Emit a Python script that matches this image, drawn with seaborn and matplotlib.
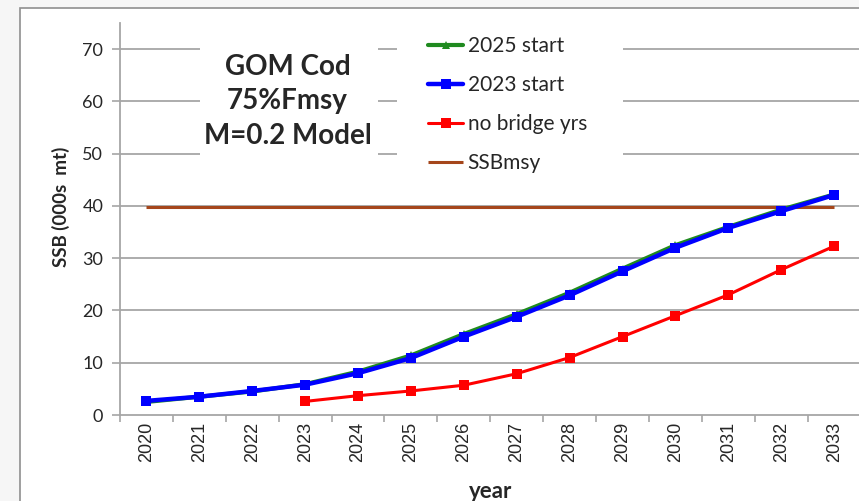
import numpy as np
import pandas as pd
import matplotlib
matplotlib.use("Agg")
import matplotlib.pyplot as plt
from matplotlib.patches import Rectangle
import seaborn as sns

# Data (SSB, 000s mt)
years = [2020, 2021, 2022, 2023, 2024, 2025, 2026, 2027, 2028, 2029, 2030, 2031, 2032, 2033]
start_2025 = [2.5, 3.5, 4.5, 5.9, 8.3, 11.4, 15.5, 19.3, 23.4, 28.0, 32.5, 36.0, 39.3, 42.2]
start_2023 = [2.7, 3.5, 4.6, 5.8, 8.0, 10.9, 15.0, 18.8, 22.9, 27.5, 32.0, 35.8, 39.0, 42.1]
no_bridge_years = [2023, 2024, 2025, 2026, 2027, 2028, 2029, 2030, 2031, 2032, 2033]
no_bridge = [2.6, 3.7, 4.6, 5.7, 7.9, 11.0, 15.0, 19.0, 23.0, 27.8, 32.3]
ssbmsy = 39.8

GRID = "#a6a6a6"
FONT = ["Lato", "DejaVu Sans"]
W, H = 859, 501


def build_frame():
    idx = {y: i for i, y in enumerate(years)}
    rows = []
    for y, v in zip(years, start_2025):
        rows.append(("2025 start", idx[y], v))
    for y, v in zip(years, start_2023):
        rows.append(("2023 start", idx[y], v))
    for y, v in zip(no_bridge_years, no_bridge):
        rows.append(("no bridge yrs", idx[y], v))
    return pd.DataFrame(rows, columns=["series", "x", "ssb"])


def main():
    sns.set_style("white")
    plt.rcParams["font.family"] = FONT

    df = build_frame()
    fig = plt.figure(figsize=(W / 100, H / 100), dpi=100, facecolor="#f6f6f6")
    # white chart area with grey frame
    fig.patches.append(Rectangle((20 / W, -0.02), 1.0, 1 - 8 / H + 0.02,
                                 transform=fig.transFigure, facecolor="white",
                                 edgecolor="#8f8f8f", linewidth=1.2, zorder=-5))

    ax = fig.add_axes([120 / W, 86 / H, 740.6 / W, 392 / H])
    ax.set_facecolor("none")

    # horizontal grid
    for v in range(10, 80, 10):
        ax.axhline(v, color=GRID, lw=1.3, zorder=1)

    n = len(years)
    ax.hlines(ssbmsy, 0, n - 1, color="#a5461b", lw=2.2, zorder=3, label="SSBmsy")

    sns.lineplot(data=df[df.series == "no bridge yrs"], x="x", y="ssb", ax=ax,
                 color="#ff0000", lw=2.2, marker="s", markersize=7,
                 markeredgewidth=0, zorder=4, label="no bridge yrs")
    sns.lineplot(data=df[df.series == "2025 start"], x="x", y="ssb", ax=ax,
                 color="#1f8a1f", lw=3.0, marker="^", markersize=6,
                 markeredgewidth=0, zorder=5, label="2025 start")
    sns.lineplot(data=df[df.series == "2023 start"], x="x", y="ssb", ax=ax,
                 color="#0000ff", lw=3.2, marker="s", markersize=7.5,
                 markeredgewidth=0, zorder=6, label="2023 start")

    ax.set_xlim(-0.5, n - 0.5)
    ax.set_ylim(0, 75)
    ax.set_yticks(range(0, 80, 10))
    ax.set_xticks(np.arange(-0.5, n, 1.0))
    ax.set_xticklabels([])
    ax.set_xticks(range(n), minor=True)
    ax.set_xticklabels([str(y) for y in years], minor=True, rotation=90,
                       family=["Liberation Sans"], fontsize=13)
    ax.tick_params(axis="x", which="major", direction="out", length=5,
                   width=1.2, color=GRID, bottom=True)
    ax.tick_params(axis="x", which="minor", length=0, pad=5)
    ax.tick_params(axis="y", direction="out", length=6, width=1.2,
                   color=GRID, left=True, labelsize=13, pad=6)

    for s in ["top", "right"]:
        ax.spines[s].set_visible(False)
    for s in ["left", "bottom"]:
        ax.spines[s].set_color(GRID)
        ax.spines[s].set_linewidth(1.3)

    ax.set_xlabel("year", fontsize=16, fontweight="bold")
    ax.xaxis.set_label_coords(0.5, -0.168)
    ax.set_ylabel("SSB (000s  mt)", fontsize=13.5, fontweight="bold")
    ax.yaxis.set_label_coords(-0.067, 0.531)

    # white boxes behind the title and the legend, hiding grid lines
    ax.add_patch(Rectangle((200 / W, 1 - 162 / H), 178 / W, 132 / H,
                           transform=fig.transFigure, facecolor="white",
                           edgecolor="none", zorder=2))
    ax.add_patch(Rectangle((397 / W, 1 - 175 / H), 226 / W, 150 / H,
                           transform=fig.transFigure, facecolor="white",
                           edgecolor="none", zorder=2))
    ax.text(0.226, 0.80, "GOM Cod\n75%Fmsy\nM=0.2 Model", transform=ax.transAxes,
            ha="center", va="center", fontsize=20, fontweight="bold",
            linespacing=1.4, zorder=7)

    handles, labels = ax.get_legend_handles_labels()
    order = [labels.index(k) for k in ["2025 start", "2023 start", "no bridge yrs", "SSBmsy"]]
    leg = ax.legend([handles[i] for i in order], [labels[i] for i in order],
                    loc="upper left", bbox_to_anchor=(428 / W, 1 - 36 / H),
                    bbox_transform=fig.transFigure, frameon=False,
                    fontsize=15, handlelength=1.7, handletextpad=0.2,
                    labelspacing=0.91, borderpad=0, borderaxespad=0)
    leg.set_zorder(8)

    fig.savefig("out.png", dpi=100, facecolor=fig.get_facecolor())


if __name__ == "__main__":
    main()
